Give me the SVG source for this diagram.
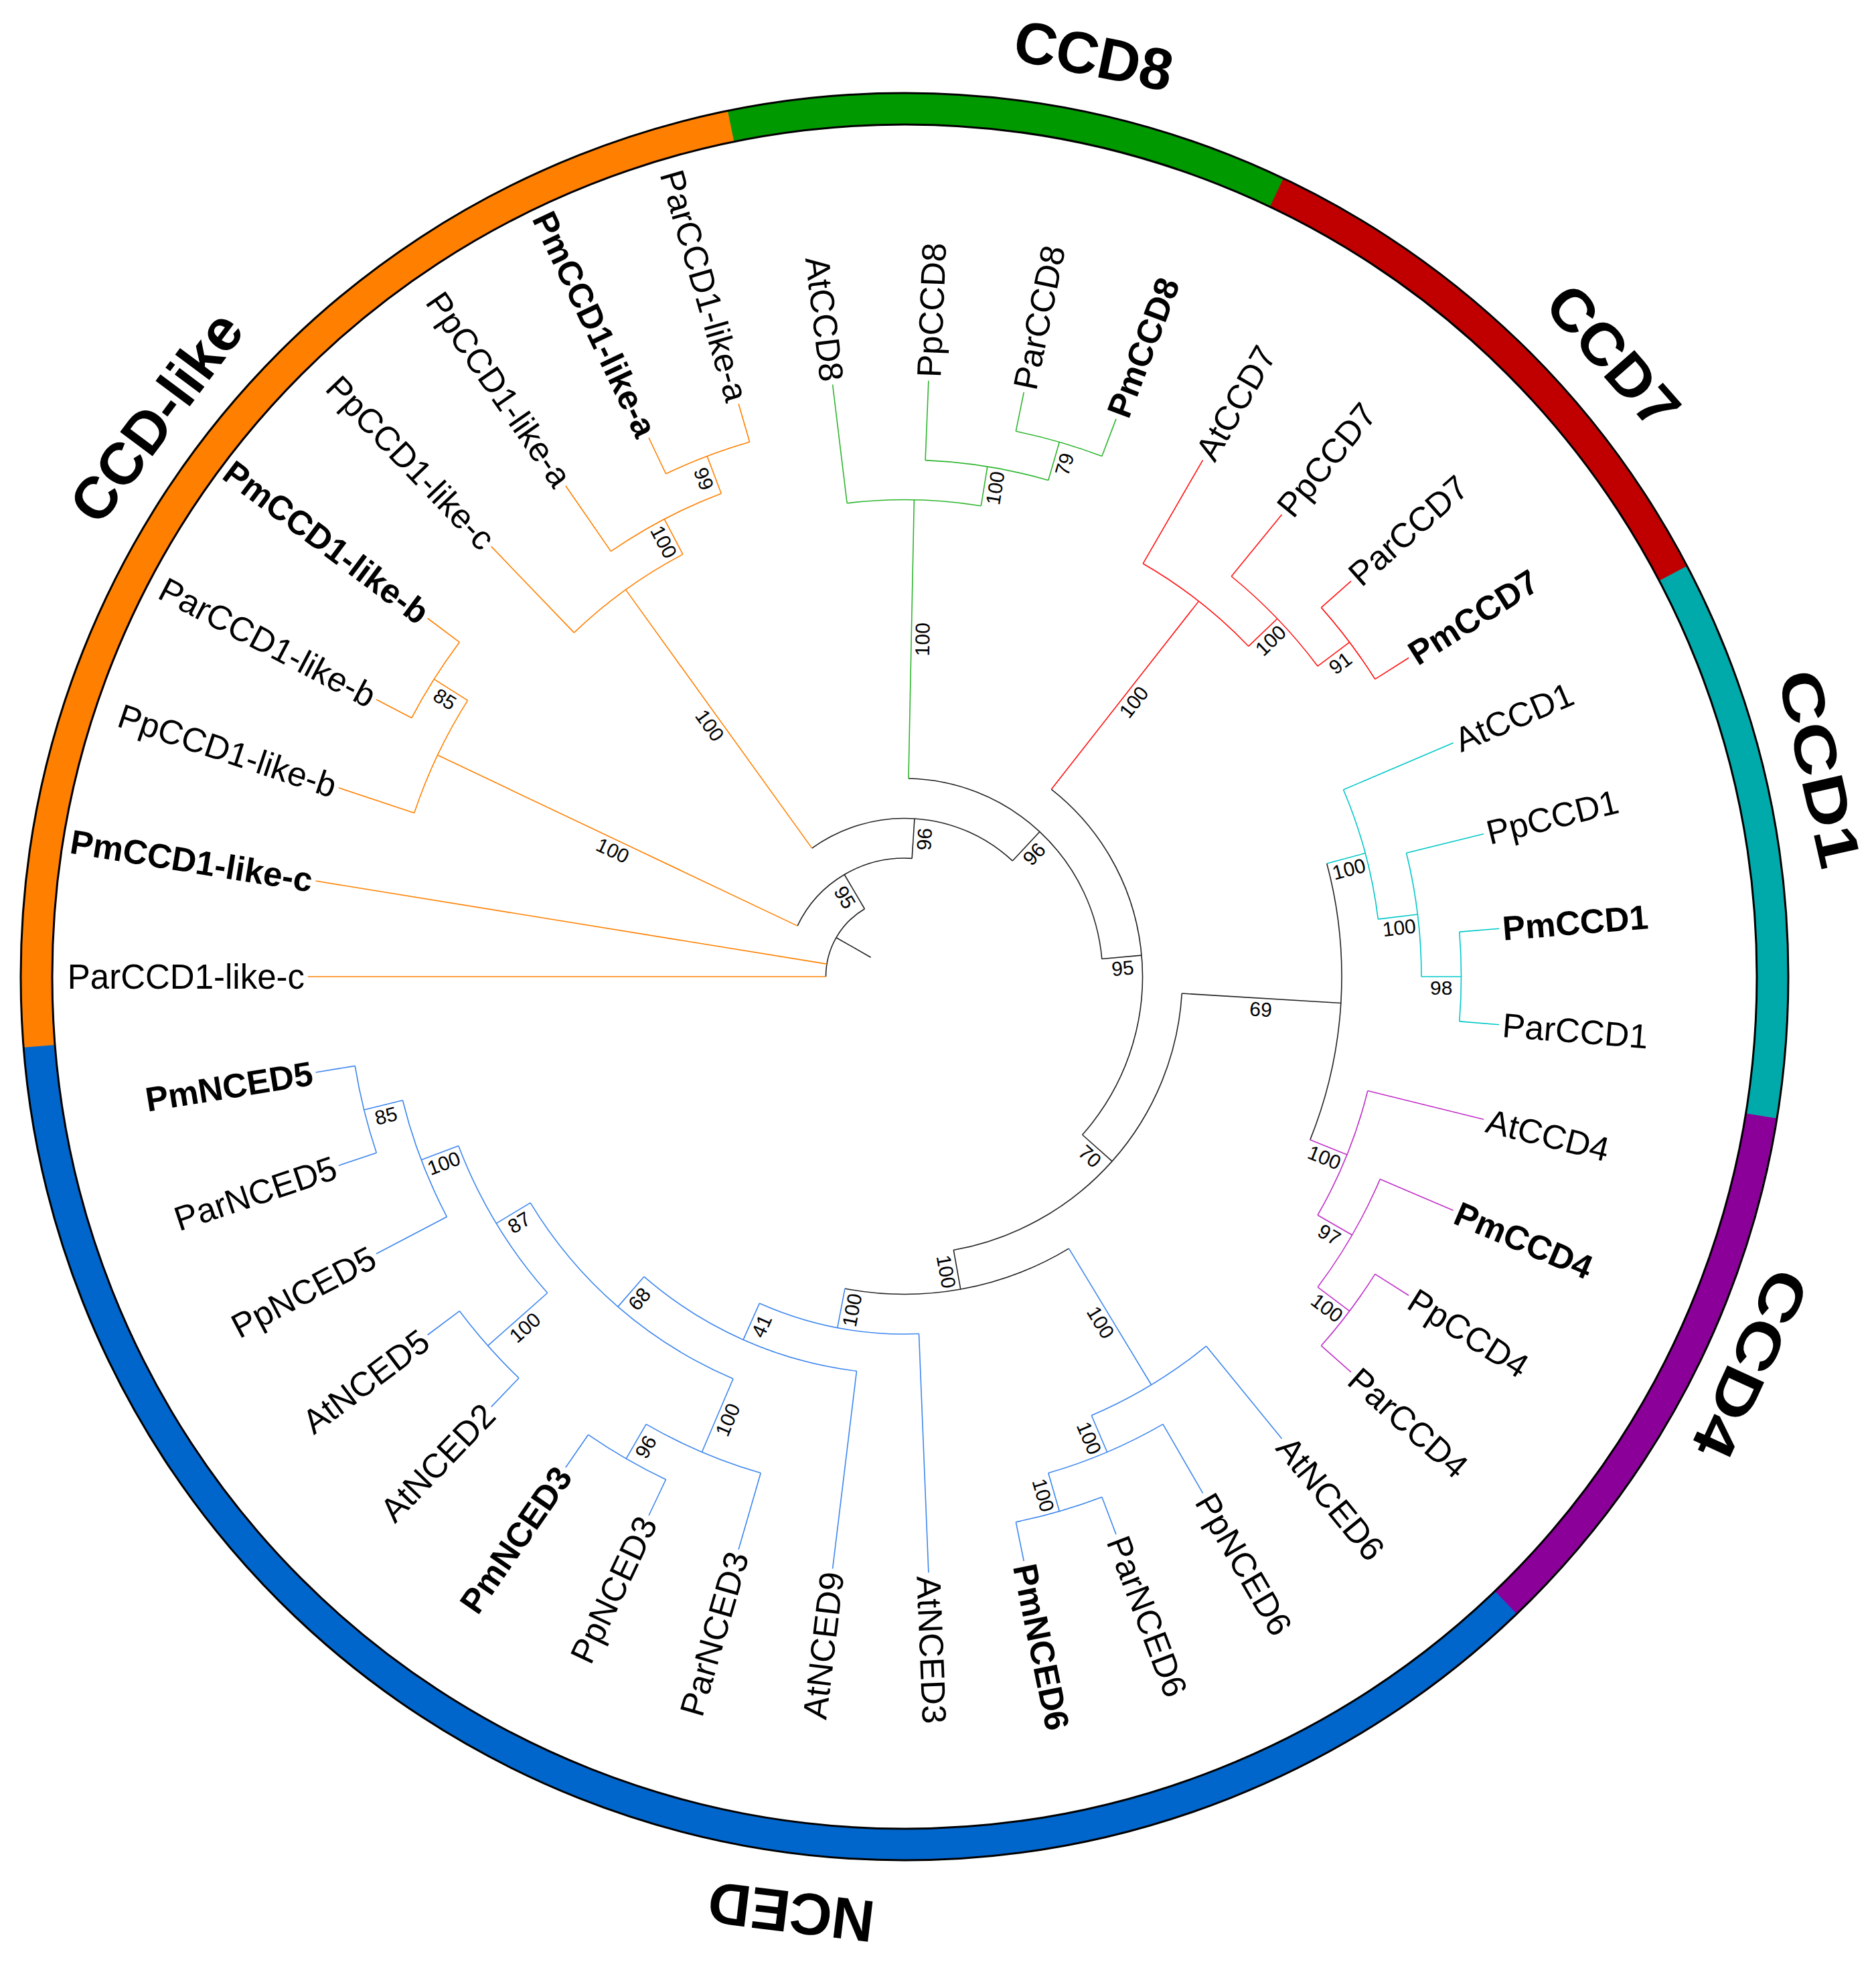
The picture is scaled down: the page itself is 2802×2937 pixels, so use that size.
<svg xmlns="http://www.w3.org/2000/svg" width="2802" height="2937" viewBox="0 0 2802 2937">
<style>
text{font-family:"Liberation Sans",Arial,sans-serif;fill:#000}
.leaf{font-size:51px}
.L{text-anchor:end}
.pm{font-weight:bold}
.bs{font-size:30px;text-anchor:middle}
.clade{font-size:88px;font-weight:bold;text-anchor:middle}
.br{fill:none;stroke-width:1.6}
.k{stroke:#222}.o{stroke:#FF8000}.g{stroke:#2DB52D}.r{stroke:#FF1010}.c{stroke:#00C8C8}.p{stroke:#C030C8}.b{stroke:#3C86EE}
</style>
<rect width="2802" height="2937" fill="#fff"/>
<g transform="translate(1351,1459)">
<g id="clade-ring" fill="none" stroke-width="47">
<circle r="1296.5" stroke="#FF7F00" stroke-dasharray="1881 9000" transform="rotate(175.3846)"/>
<circle r="1296.5" stroke="#009900" stroke-dasharray="836.5 9000" transform="rotate(258.4615)"/>
<circle r="1296.5" stroke="#C00000" stroke-dasharray="836.5 9000" transform="rotate(295.3846)"/>
<circle r="1296.5" stroke="#00AAAA" stroke-dasharray="836.5 9000" transform="rotate(332.3077)"/>
<circle r="1296.5" stroke="#8B0099" stroke-dasharray="836.5 9000" transform="rotate(369.2308)"/>
<circle r="1296.5" stroke="#0066CC" stroke-dasharray="2924.5 9000" transform="rotate(406.1538)"/>
<circle r="1320" stroke="#000" stroke-width="3"/>
<circle r="1273" stroke="#000" stroke-width="3"/>
</g>
<g id="connectors">
<circle class="br k" r="117.5" stroke-dasharray="122.02 9999" transform="rotate(180)"/>
<circle class="br k" r="177" stroke-dasharray="210.79 9999" transform="rotate(205.3846)"/>
<circle class="br k" r="236.5" stroke-dasharray="325.17 9999" transform="rotate(234.2308)"/>
<circle class="br k" r="296" stroke-dasharray="432.45 9999" transform="rotate(271.1538)"/>
<circle class="br k" r="355.5" stroke-dasharray="580.57 9999" transform="rotate(308.0769)"/>
<circle class="br k" r="415" stroke-dasharray="553.16 9999" transform="rotate(363.4615)"/>
<circle class="br k" r="653" stroke-dasharray="420.81 9999" transform="rotate(345)"/>
<circle class="br k" r="474.5" stroke-dasharray="347.59 9999" transform="rotate(418.8462)"/>
<circle class="br o" r="772" stroke-dasharray="186.56 9999" transform="rotate(198.4615)"/>
<circle class="br o" r="831.5" stroke-dasharray="133.96 9999" transform="rotate(207.6923)"/>
<circle class="br o" r="712.5" stroke-dasharray="200.88 9999" transform="rotate(226.1538)"/>
<circle class="br o" r="772" stroke-dasharray="186.56 9999" transform="rotate(235.3846)"/>
<circle class="br o" r="831.5" stroke-dasharray="133.96 9999" transform="rotate(244.6154)"/>
<circle class="br g" r="712.5" stroke-dasharray="200.88 9999" transform="rotate(263.0769)"/>
<circle class="br g" r="772" stroke-dasharray="186.56 9999" transform="rotate(272.3077)"/>
<circle class="br g" r="831.5" stroke-dasharray="133.96 9999" transform="rotate(281.5385)"/>
<circle class="br r" r="712.5" stroke-dasharray="200.88 9999" transform="rotate(300)"/>
<circle class="br r" r="772" stroke-dasharray="186.56 9999" transform="rotate(309.2308)"/>
<circle class="br r" r="831.5" stroke-dasharray="133.96 9999" transform="rotate(318.4615)"/>
<circle class="br c" r="712.5" stroke-dasharray="200.88 9999" transform="rotate(336.9231)"/>
<circle class="br c" r="772" stroke-dasharray="186.56 9999" transform="rotate(346.1538)"/>
<circle class="br c" r="831.5" stroke-dasharray="133.96 9999" transform="rotate(355.3846)"/>
<circle class="br p" r="712.5" stroke-dasharray="200.88 9999" transform="rotate(373.8462)"/>
<circle class="br p" r="772" stroke-dasharray="186.56 9999" transform="rotate(383.0769)"/>
<circle class="br p" r="831.5" stroke-dasharray="133.96 9999" transform="rotate(392.3077)"/>
<circle class="br b" r="712.5" stroke-dasharray="200.88 9999" transform="rotate(410.7692)"/>
<circle class="br b" r="772" stroke-dasharray="186.56 9999" transform="rotate(420)"/>
<circle class="br b" r="831.5" stroke-dasharray="133.96 9999" transform="rotate(429.2308)"/>
<circle class="br b" r="534" stroke-dasharray="244.65 9999" transform="rotate(447.6923)"/>
<circle class="br b" r="593.5" stroke-dasharray="352.59 9999" transform="rotate(456.9231)"/>
<circle class="br b" r="653" stroke-dasharray="407.66 9999" transform="rotate(473.0769)"/>
<circle class="br b" r="772" stroke-dasharray="186.56 9999" transform="rotate(466.1538)"/>
<circle class="br b" r="831.5" stroke-dasharray="133.96 9999" transform="rotate(475.3846)"/>
<circle class="br b" r="712.5" stroke-dasharray="258.28 9999" transform="rotate(498.4615)"/>
<circle class="br b" r="831.5" stroke-dasharray="133.96 9999" transform="rotate(493.8462)"/>
<circle class="br b" r="772" stroke-dasharray="186.56 9999" transform="rotate(512.3077)"/>
<circle class="br b" r="831.5" stroke-dasharray="133.96 9999" transform="rotate(521.5385)"/>
<path class="br k" d="M58 0H117.5" transform="rotate(209.751)"/>
<path class="br k" d="M117.5 0H177" transform="rotate(239.502)"/>
<path class="br o" d="M177 0H772" transform="rotate(205.3846)"/>
<path class="br o" d="M772 0H831.5" transform="rotate(212.3077)"/>
<path class="br k" d="M177 0H236.5" transform="rotate(273.6193)"/>
<path class="br o" d="M236.5 0H712.5" transform="rotate(234.2308)"/>
<path class="br o" d="M712.5 0H772" transform="rotate(242.3077)"/>
<path class="br o" d="M772 0H831.5" transform="rotate(249.2308)"/>
<path class="br k" d="M236.5 0H296" transform="rotate(313.0078)"/>
<path class="br g" d="M296 0H712.5" transform="rotate(271.1538)"/>
<path class="br g" d="M712.5 0H772" transform="rotate(279.2308)"/>
<path class="br g" d="M772 0H831.5" transform="rotate(286.1538)"/>
<path class="br k" d="M296 0H355.5" transform="rotate(354.8618)"/>
<path class="br r" d="M355.5 0H712.5" transform="rotate(308.0769)"/>
<path class="br r" d="M712.5 0H772" transform="rotate(316.1538)"/>
<path class="br r" d="M772 0H831.5" transform="rotate(323.0769)"/>
<path class="br k" d="M355.5 0H415" transform="rotate(401.6466)"/>
<path class="br k" d="M415 0H653" transform="rotate(363.4615)"/>
<path class="br c" d="M653 0H712.5" transform="rotate(345)"/>
<path class="br c" d="M712.5 0H772" transform="rotate(353.0769)"/>
<path class="br c" d="M772 0H831.5" transform="rotate(360)"/>
<path class="br p" d="M653 0H712.5" transform="rotate(381.9231)"/>
<path class="br p" d="M712.5 0H772" transform="rotate(390)"/>
<path class="br p" d="M772 0H831.5" transform="rotate(396.9231)"/>
<path class="br k" d="M415 0H474.5" transform="rotate(439.8317)"/>
<path class="br b" d="M474.5 0H712.5" transform="rotate(418.8462)"/>
<path class="br b" d="M712.5 0H772" transform="rotate(426.9231)"/>
<path class="br b" d="M772 0H831.5" transform="rotate(433.8462)"/>
<path class="br b" d="M474.5 0H534" transform="rotate(460.8173)"/>
<path class="br b" d="M534 0H593.5" transform="rotate(473.9423)"/>
<path class="br b" d="M593.5 0H653" transform="rotate(490.9615)"/>
<path class="br b" d="M653 0H772" transform="rotate(473.0769)"/>
<path class="br b" d="M772 0H831.5" transform="rotate(480)"/>
<path class="br b" d="M653 0H712.5" transform="rotate(508.8462)"/>
<path class="br b" d="M712.5 0H831.5" transform="rotate(498.4615)"/>
<path class="br b" d="M712.5 0H772" transform="rotate(519.2308)"/>
<path class="br b" d="M772 0H831.5" transform="rotate(526.1538)"/>
<path class="br o" d="M117.5 0H891" transform="rotate(180)"/>
<path class="br o" d="M117.5 0H891" transform="rotate(189.2308)"/>
<path class="br o" d="M772 0H891" transform="rotate(198.4615)"/>
<path class="br o" d="M831.5 0H891" transform="rotate(207.6923)"/>
<path class="br o" d="M831.5 0H891" transform="rotate(216.9231)"/>
<path class="br o" d="M712.5 0H891" transform="rotate(226.1538)"/>
<path class="br o" d="M772 0H891" transform="rotate(235.3846)"/>
<path class="br o" d="M831.5 0H891" transform="rotate(244.6154)"/>
<path class="br o" d="M831.5 0H891" transform="rotate(253.8462)"/>
<path class="br g" d="M712.5 0H891" transform="rotate(263.0769)"/>
<path class="br g" d="M772 0H891" transform="rotate(272.3077)"/>
<path class="br g" d="M831.5 0H891" transform="rotate(281.5385)"/>
<path class="br g" d="M831.5 0H891" transform="rotate(290.7692)"/>
<path class="br r" d="M712.5 0H891" transform="rotate(300)"/>
<path class="br r" d="M772 0H891" transform="rotate(309.2308)"/>
<path class="br r" d="M831.5 0H891" transform="rotate(318.4615)"/>
<path class="br r" d="M831.5 0H891" transform="rotate(327.6923)"/>
<path class="br c" d="M712.5 0H891" transform="rotate(336.9231)"/>
<path class="br c" d="M772 0H891" transform="rotate(346.1538)"/>
<path class="br c" d="M831.5 0H891" transform="rotate(355.3846)"/>
<path class="br c" d="M831.5 0H891" transform="rotate(364.6154)"/>
<path class="br p" d="M712.5 0H891" transform="rotate(373.8462)"/>
<path class="br p" d="M772 0H891" transform="rotate(383.0769)"/>
<path class="br p" d="M831.5 0H891" transform="rotate(392.3077)"/>
<path class="br p" d="M831.5 0H891" transform="rotate(401.5385)"/>
<path class="br b" d="M712.5 0H891" transform="rotate(410.7692)"/>
<path class="br b" d="M772 0H891" transform="rotate(420)"/>
<path class="br b" d="M831.5 0H891" transform="rotate(429.2308)"/>
<path class="br b" d="M831.5 0H891" transform="rotate(438.4615)"/>
<path class="br b" d="M534 0H891" transform="rotate(447.6923)"/>
<path class="br b" d="M593.5 0H891" transform="rotate(456.9231)"/>
<path class="br b" d="M772 0H891" transform="rotate(466.1538)"/>
<path class="br b" d="M831.5 0H891" transform="rotate(475.3846)"/>
<path class="br b" d="M831.5 0H891" transform="rotate(484.6154)"/>
<path class="br b" d="M831.5 0H891" transform="rotate(493.8462)"/>
<path class="br b" d="M831.5 0H891" transform="rotate(503.0769)"/>
<path class="br b" d="M772 0H891" transform="rotate(512.3077)"/>
<path class="br b" d="M831.5 0H891" transform="rotate(521.5385)"/>
<path class="br b" d="M831.5 0H891" transform="rotate(530.7692)"/>
</g>
<g id="support-values">
<g id="node-B"><text class="bs" transform="rotate(59.502)" x="-147.25" y="27">95</text></g>
<g id="node-b1"><text class="bs" transform="rotate(25.3846)" x="-474.5" y="27">100</text></g>
<g id="node-b2"><text class="bs" transform="rotate(32.3077)" x="-801.75" y="27">85</text></g>
<g id="node-C"><text class="bs" transform="rotate(-86.3807)" x="206.75" y="27">96</text></g>
<g id="node-a1"><text class="bs" transform="rotate(54.2308)" x="-474.5" y="27">100</text></g>
<g id="node-a2"><text class="bs" transform="rotate(62.3077)" x="-742.25" y="27">100</text></g>
<g id="node-a3"><text class="bs" transform="rotate(69.2308)" x="-801.75" y="27">99</text></g>
<g id="node-D"><text class="bs" transform="rotate(-46.9922)" x="266" y="27">96</text></g>
<g id="node-g1"><text class="bs" transform="rotate(-88.8462)" x="504.25" y="27">100</text></g>
<g id="node-g2"><text class="bs" transform="rotate(-80.7692)" x="742.25" y="27">100</text></g>
<g id="node-g3"><text class="bs" transform="rotate(-73.8462)" x="801.75" y="27">79</text></g>
<g id="node-E"><text class="bs" transform="rotate(-5.1382)" x="325.75" y="27">95</text></g>
<g id="node-r1"><text class="bs" transform="rotate(-51.9231)" x="534" y="27">100</text></g>
<g id="node-r2"><text class="bs" transform="rotate(-43.8462)" x="742.25" y="27">100</text></g>
<g id="node-r3"><text class="bs" transform="rotate(-36.9231)" x="801.75" y="27">91</text></g>
<g id="node-F"><text class="bs" transform="rotate(41.6466)" x="385.25" y="27">70</text></g>
<g id="node-H"><text class="bs" transform="rotate(3.4615)" x="534" y="27">69</text></g>
<g id="node-c1"><text class="bs" transform="rotate(-15)" x="682.75" y="27">100</text></g>
<g id="node-c2"><text class="bs" transform="rotate(-6.9231)" x="742.25" y="27">100</text></g>
<g id="node-c3"><text class="bs" transform="rotate(0)" x="801.75" y="27">98</text></g>
<g id="node-p1"><text class="bs" transform="rotate(21.9231)" x="682.75" y="27">100</text></g>
<g id="node-p2"><text class="bs" transform="rotate(30)" x="742.25" y="27">97</text></g>
<g id="node-p3"><text class="bs" transform="rotate(36.9231)" x="801.75" y="27">100</text></g>
<g id="node-N"><text class="bs" transform="rotate(79.8317)" x="444.75" y="27">100</text></g>
<g id="node-n6a"><text class="bs" transform="rotate(58.8462)" x="593.5" y="27">100</text></g>
<g id="node-n6b"><text class="bs" transform="rotate(66.9231)" x="742.25" y="27">100</text></g>
<g id="node-n6c"><text class="bs" transform="rotate(73.8462)" x="801.75" y="27">100</text></g>
<g id="node-nrest"><text class="bs" transform="rotate(-79.1827)" x="-504" y="27">100</text></g>
<g id="node-n41"><text class="bs" transform="rotate(-66.0577)" x="-563.75" y="27">41</text></g>
<g id="node-n68"><text class="bs" transform="rotate(-49.0385)" x="-623.25" y="27">68</text></g>
<g id="node-n3"><text class="bs" transform="rotate(-66.9231)" x="-712.5" y="27">100</text></g>
<g id="node-n96"><text class="bs" transform="rotate(-60)" x="-801.75" y="27">96</text></g>
<g id="node-n87"><text class="bs" transform="rotate(-31.1538)" x="-682.75" y="27">87</text></g>
<g id="node-n2"><text class="bs" transform="rotate(-41.5385)" x="-772" y="27">100</text></g>
<g id="node-n5a"><text class="bs" transform="rotate(-20.7692)" x="-742.25" y="27">100</text></g>
<g id="node-n5b"><text class="bs" transform="rotate(-13.8462)" x="-801.75" y="27">85</text></g>
</g>
<g id="leaves">
<g id="leaf-ParCCD1-like-c"><text class="leaf L" transform="rotate(0)" x="-896" dy=".35em">ParCCD1-like-c</text></g>
<g id="leaf-PmCCD1-like-c"><text class="leaf L pm" transform="rotate(9.2308)" x="-896" dy=".35em">PmCCD1-like-c</text></g>
<g id="leaf-PpCCD1-like-b"><text class="leaf L" transform="rotate(18.4615)" x="-896" dy=".35em">PpCCD1-like-b</text></g>
<g id="leaf-ParCCD1-like-b"><text class="leaf L" transform="rotate(27.6923)" x="-896" dy=".35em">ParCCD1-like-b</text></g>
<g id="leaf-PmCCD1-like-b"><text class="leaf L pm" transform="rotate(36.9231)" x="-896" dy=".35em">PmCCD1-like-b</text></g>
<g id="leaf-PpCCD1-like-c"><text class="leaf L" transform="rotate(46.1538)" x="-896" dy=".35em">PpCCD1-like-c</text></g>
<g id="leaf-PpCCD1-like-a"><text class="leaf L" transform="rotate(55.3846)" x="-896" dy=".35em">PpCCD1-like-a</text></g>
<g id="leaf-PmCCD1-like-a"><text class="leaf L pm" transform="rotate(64.6154)" x="-896" dy=".35em">PmCCD1-like-a</text></g>
<g id="leaf-ParCCD1-like-a"><text class="leaf L" transform="rotate(73.8462)" x="-896" dy=".35em">ParCCD1-like-a</text></g>
<g id="leaf-AtCCD8"><text class="leaf L" transform="rotate(83.0769)" x="-896" dy=".35em">AtCCD8</text></g>
<g id="leaf-PpCCD8"><text class="leaf" transform="rotate(-87.6923)" x="896" dy=".35em">PpCCD8</text></g>
<g id="leaf-ParCCD8"><text class="leaf" transform="rotate(-78.4615)" x="896" dy=".35em">ParCCD8</text></g>
<g id="leaf-PmCCD8"><text class="leaf pm" transform="rotate(-69.2308)" x="896" dy=".35em">PmCCD8</text></g>
<g id="leaf-AtCCD7"><text class="leaf" transform="rotate(-60)" x="896" dy=".35em">AtCCD7</text></g>
<g id="leaf-PpCCD7"><text class="leaf" transform="rotate(-50.7692)" x="896" dy=".35em">PpCCD7</text></g>
<g id="leaf-ParCCD7"><text class="leaf" transform="rotate(-41.5385)" x="896" dy=".35em">ParCCD7</text></g>
<g id="leaf-PmCCD7"><text class="leaf pm" transform="rotate(-32.3077)" x="896" dy=".35em">PmCCD7</text></g>
<g id="leaf-AtCCD1"><text class="leaf" transform="rotate(-23.0769)" x="896" dy=".35em">AtCCD1</text></g>
<g id="leaf-PpCCD1"><text class="leaf" transform="rotate(-13.8462)" x="896" dy=".35em">PpCCD1</text></g>
<g id="leaf-PmCCD1"><text class="leaf pm" transform="rotate(-4.6154)" x="896" dy=".35em">PmCCD1</text></g>
<g id="leaf-ParCCD1"><text class="leaf" transform="rotate(4.6154)" x="896" dy=".35em">ParCCD1</text></g>
<g id="leaf-AtCCD4"><text class="leaf" transform="rotate(13.8462)" x="896" dy=".35em">AtCCD4</text></g>
<g id="leaf-PmCCD4"><text class="leaf pm" transform="rotate(23.0769)" x="896" dy=".35em">PmCCD4</text></g>
<g id="leaf-PpCCD4"><text class="leaf" transform="rotate(32.3077)" x="896" dy=".35em">PpCCD4</text></g>
<g id="leaf-ParCCD4"><text class="leaf" transform="rotate(41.5385)" x="896" dy=".35em">ParCCD4</text></g>
<g id="leaf-AtNCED6"><text class="leaf" transform="rotate(50.7692)" x="896" dy=".35em">AtNCED6</text></g>
<g id="leaf-PpNCED6"><text class="leaf" transform="rotate(60)" x="896" dy=".35em">PpNCED6</text></g>
<g id="leaf-ParNCED6"><text class="leaf" transform="rotate(69.2308)" x="896" dy=".35em">ParNCED6</text></g>
<g id="leaf-PmNCED6"><text class="leaf pm" transform="rotate(78.4615)" x="896" dy=".35em">PmNCED6</text></g>
<g id="leaf-AtNCED3"><text class="leaf" transform="rotate(87.6923)" x="896" dy=".35em">AtNCED3</text></g>
<g id="leaf-AtNCED9"><text class="leaf L" transform="rotate(-83.0769)" x="-896" dy=".35em">AtNCED9</text></g>
<g id="leaf-ParNCED3"><text class="leaf L" transform="rotate(-73.8462)" x="-896" dy=".35em">ParNCED3</text></g>
<g id="leaf-PpNCED3"><text class="leaf L" transform="rotate(-64.6154)" x="-896" dy=".35em">PpNCED3</text></g>
<g id="leaf-PmNCED3"><text class="leaf L pm" transform="rotate(-55.3846)" x="-896" dy=".35em">PmNCED3</text></g>
<g id="leaf-AtNCED2"><text class="leaf L" transform="rotate(-46.1538)" x="-896" dy=".35em">AtNCED2</text></g>
<g id="leaf-AtNCED5"><text class="leaf L" transform="rotate(-36.9231)" x="-896" dy=".35em">AtNCED5</text></g>
<g id="leaf-PpNCED5"><text class="leaf L" transform="rotate(-27.6923)" x="-896" dy=".35em">PpNCED5</text></g>
<g id="leaf-ParNCED5"><text class="leaf L" transform="rotate(-18.4615)" x="-896" dy=".35em">ParNCED5</text></g>
<g id="leaf-PmNCED5"><text class="leaf L pm" transform="rotate(-9.2308)" x="-896" dy=".35em">PmNCED5</text></g>
</g>
<g id="clade-labels">
<g id="clade-CCD-like"><text class="clade" transform="rotate(306.8) translate(0,-1396)" dy=".35em">CCD-like</text></g>
<g id="clade-CCD8"><text class="clade" transform="rotate(11.6) translate(0,-1405)" dy=".35em">CCD8</text></g>
<g id="clade-CCD7"><text class="clade" transform="rotate(48.8) translate(0,-1407)" dy=".35em" textLength="252" lengthAdjust="spacingAndGlyphs">CCD7</text></g>
<g id="clade-CCD1"><text class="clade" transform="rotate(77.2) translate(0,-1402)" dy=".35em" textLength="300" lengthAdjust="spacingAndGlyphs">CCD1</text></g>
<g id="clade-CCD4"><text class="clade" transform="rotate(114.6) translate(0,-1390)" dy=".35em" textLength="300" lengthAdjust="spacingAndGlyphs">CCD4</text></g>
<g id="clade-NCED"><text class="clade" transform="rotate(186.9) translate(0,-1408)" dy=".35em">NCED</text></g>
</g>
</g>
</svg>
